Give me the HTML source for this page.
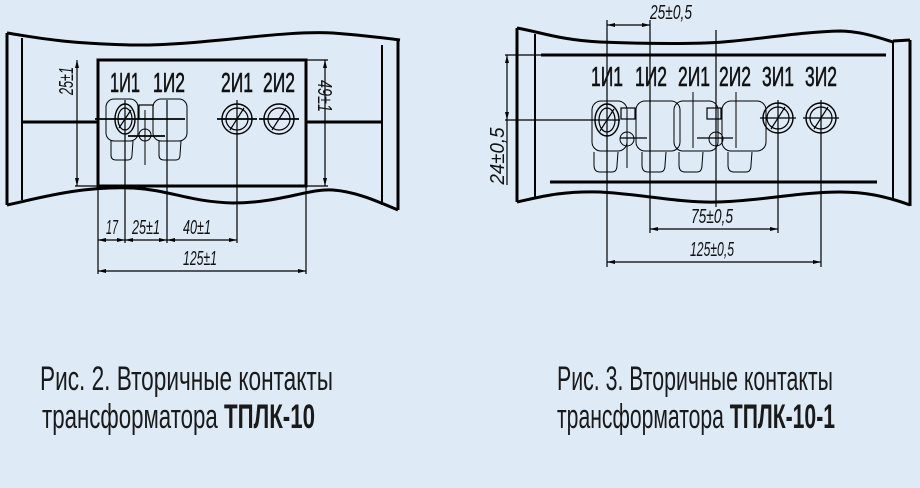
<!DOCTYPE html>
<html><head><meta charset="utf-8"><style>
html,body{margin:0;padding:0;background:#dfeaf7;}
svg{display:block}
.t{font-family:"Liberation Sans",sans-serif;fill:#111;}
.c{font-family:"Liberation Sans",sans-serif;fill:#1a1a1a;font-size:34px;}
</style></head><body>
<svg width="920" height="488" viewBox="0 0 920 488" xmlns="http://www.w3.org/2000/svg">
<rect width="920" height="488" fill="#dfeaf7"/>
<g fill="none" stroke="#000">
<path d="M7,33 C40,38 60,43 133,45 C200,46 280,30 333,33 C360,35 385,38 400,40" stroke-width="3"/>
<path d="M7,205 C40,198 80,186 133,188 C170,190 190,202 233,203 C280,203 310,188 333,190 C360,192 385,205 398,210" stroke-width="3"/>
<line x1="7" y1="33" x2="7" y2="205" stroke-width="3"/>
<line x1="22" y1="38" x2="22" y2="200" stroke-width="2"/>
<line x1="382" y1="45" x2="382" y2="205" stroke-width="2"/>
<line x1="398" y1="40" x2="398" y2="210" stroke-width="3"/>
<line x1="22" y1="122" x2="98" y2="122" stroke-width="3"/>
<line x1="306" y1="122" x2="382" y2="122" stroke-width="3"/>
<rect x="98" y="60" width="208" height="126" stroke-width="3"/>
<line x1="77" y1="60" x2="77" y2="186" stroke-width="1.2"/>
<line x1="75" y1="186" x2="98" y2="186" stroke-width="1.2"/>
<line x1="325" y1="60" x2="325" y2="186" stroke-width="1.2"/>
<line x1="306" y1="60" x2="328" y2="60" stroke-width="1.2"/>
<line x1="306" y1="186" x2="328" y2="186" stroke-width="1.2"/>
<rect x="106" y="99" width="32" height="42" rx="8" stroke-width="1"/>
<ellipse cx="125" cy="119" rx="10" ry="15" stroke-width="1.4"/>
<ellipse cx="125" cy="119" rx="7" ry="11" stroke-width="1.2"/>
<line x1="119" y1="128" x2="131" y2="110" stroke-width="1.2"/>
<rect x="139" y="105" width="14" height="14" stroke-width="1.2"/>
<circle cx="145" cy="135" r="6" stroke-width="1"/>
<rect x="153" y="99" width="34" height="42" rx="8" stroke-width="1"/>
<path d="M111,141 L111,155 Q111,160 116,160 L128,160 Q132,160 132,155 L133,141" stroke-width="1"/>
<path d="M159,141 L159,155 Q159,160 164,160 L176,160 Q180,160 180,155 L181,141" stroke-width="1"/>
<line x1="95" y1="119" x2="185" y2="119" stroke-width="1.8"/>
<line x1="128" y1="136" x2="165" y2="136" stroke-width="1.8"/>
<line x1="145" y1="110" x2="145" y2="165" stroke-width="1"/>
<circle cx="237" cy="119" r="15" stroke-width="1.4"/>
<circle cx="237" cy="119" r="11" stroke-width="1.2"/>
<line x1="230" y1="130" x2="244" y2="108" stroke-width="1.2"/>
<line x1="217" y1="119" x2="257" y2="119" stroke-width="1.8"/>
<circle cx="279" cy="119" r="15" stroke-width="1.4"/>
<circle cx="279" cy="119" r="11" stroke-width="1.2"/>
<line x1="272" y1="130" x2="286" y2="108" stroke-width="1.2"/>
<line x1="259" y1="119" x2="299" y2="119" stroke-width="1.8"/>
<line x1="98" y1="186" x2="98" y2="274" stroke-width="1.2"/>
<line x1="125" y1="100" x2="125" y2="243" stroke-width="1.2"/>
<line x1="167" y1="100" x2="167" y2="243" stroke-width="1.2"/>
<line x1="237" y1="100" x2="237" y2="243" stroke-width="1.2"/>
<line x1="306" y1="186" x2="306" y2="274" stroke-width="1.2"/>
<line x1="98" y1="240" x2="237" y2="240" stroke-width="1.2"/>
<line x1="98" y1="271" x2="306" y2="271" stroke-width="1.2"/>

<path d="M517,28 C540,32 560,40 600,42 C650,44 700,44 723,42 C770,38 800,32 840,31 C860,31 880,38 893,42" stroke-width="3"/>
<path d="M517,202 C540,197 560,191 600,192 C640,194 680,203 717,202 C760,201 800,192 840,192 C865,192 885,196 910,205" stroke-width="3"/>
<line x1="517" y1="28" x2="517" y2="202" stroke-width="3"/>
<line x1="535" y1="34" x2="535" y2="198" stroke-width="2"/>
<line x1="893" y1="42" x2="893" y2="198" stroke-width="2"/>
<line x1="910" y1="40" x2="910" y2="206" stroke-width="3"/>
<line x1="893" y1="41" x2="910" y2="40" stroke-width="3"/>
<line x1="541" y1="55" x2="886" y2="55" stroke-width="3"/>
<line x1="550" y1="182" x2="877" y2="182" stroke-width="3"/>
<line x1="505" y1="55" x2="541" y2="55" stroke-width="1.2"/>
<line x1="505" y1="120" x2="620" y2="120" stroke-width="1.2"/>
<line x1="507" y1="55" x2="507" y2="185" stroke-width="1.2"/>
<rect x="592" y="101" width="35" height="50" rx="9" stroke-width="1"/>
<ellipse cx="607" cy="120" rx="12" ry="16" stroke-width="1.4"/>
<ellipse cx="607" cy="120" rx="8" ry="12" stroke-width="1.2"/>
<line x1="600" y1="131" x2="614" y2="109" stroke-width="1.2"/>
<rect x="621" y="108" width="14" height="11" stroke-width="1.2"/>
<circle cx="627" cy="139" r="7" stroke-width="1"/>
<rect x="636" y="101" width="44" height="50" rx="9" stroke-width="1"/>
<rect x="674" y="101" width="44" height="50" rx="9" stroke-width="1"/>
<rect x="707" y="108" width="14" height="11" stroke-width="1.2"/>
<circle cx="716" cy="139" r="7" stroke-width="1"/>
<rect x="722" y="101" width="44" height="50" rx="9" stroke-width="1"/>
<path d="M594,152 L594,165 Q594,172 600,172 L612,172 Q617,172 617,165 L618,152" stroke-width="1"/>
<path d="M642,152 L642,165 Q642,172 648,172 L660,172 Q665,172 665,165 L666,152" stroke-width="1"/>
<path d="M679,152 L679,165 Q679,172 685,172 L697,172 Q702,172 702,165 L703,152" stroke-width="1"/>
<path d="M728,152 L728,165 Q728,172 734,172 L746,172 Q751,172 751,165 L752,152" stroke-width="1"/>
<line x1="620" y1="138" x2="647" y2="138" stroke-width="1.2"/>
<line x1="697" y1="138" x2="733" y2="138" stroke-width="1.2"/>
<circle cx="778" cy="118" r="15" stroke-width="1.4"/>
<circle cx="778" cy="118" r="11" stroke-width="1.2"/>
<line x1="771" y1="129" x2="785" y2="107" stroke-width="1.2"/>
<line x1="760" y1="118" x2="796" y2="118" stroke-width="1.2"/>
<circle cx="821" cy="118" r="15" stroke-width="1.4"/>
<circle cx="821" cy="118" r="11" stroke-width="1.2"/>
<line x1="814" y1="129" x2="828" y2="107" stroke-width="1.2"/>
<line x1="803" y1="118" x2="839" y2="118" stroke-width="1.2"/>
<line x1="607" y1="20" x2="607" y2="267" stroke-width="1.2"/>
<line x1="650" y1="20" x2="650" y2="233" stroke-width="1.2"/>
<line x1="627" y1="125" x2="627" y2="168" stroke-width="1"/>
<line x1="693" y1="92" x2="693" y2="148" stroke-width="1"/>
<line x1="736" y1="92" x2="736" y2="148" stroke-width="1"/>
<line x1="716" y1="30" x2="716" y2="207" stroke-width="1.2"/>
<line x1="778" y1="100" x2="778" y2="233" stroke-width="1.2"/>
<line x1="821" y1="100" x2="821" y2="267" stroke-width="1.2"/>
<line x1="607" y1="25" x2="650" y2="25" stroke-width="1.2"/>
<line x1="650" y1="229" x2="778" y2="229" stroke-width="1.2"/>
<line x1="607" y1="262" x2="821" y2="262" stroke-width="1.2"/>
</g>
<g fill="#000">
<polygon points="98,240 106,238 106,242"/><polygon points="125,240 117,238 117,242"/>
<polygon points="125,240 133,238 133,242"/><polygon points="167,240 159,238 159,242"/>
<polygon points="167,240 175,238 175,242"/><polygon points="237,240 229,238 229,242"/>
<polygon points="98,271 106,269 106,273"/><polygon points="306,271 298,269 298,273"/>
<polygon points="77,60 75,68 79,68"/><polygon points="77,186 75,178 79,178"/>
<polygon points="325,60 323,68 327,68"/><polygon points="325,186 323,178 327,178"/>
<polygon points="607,25 615,23 615,27"/><polygon points="650,25 642,23 642,27"/>
<polygon points="650,229 658,227 658,231"/><polygon points="778,229 770,227 770,231"/>
<polygon points="607,262 615,260 615,264"/><polygon points="821,262 813,260 813,264"/>
<polygon points="507,55 505,63 509,63"/><polygon points="507,120 505,112 509,112"/>
</g>
<g class="t" font-size="28" text-anchor="middle" stroke="#111" stroke-width="0.6">
<text x="125" y="92" textLength="30" lengthAdjust="spacingAndGlyphs">1И1</text>
<text x="169" y="92" textLength="32" lengthAdjust="spacingAndGlyphs">1И2</text>
<text x="237" y="92" textLength="32" lengthAdjust="spacingAndGlyphs">2И1</text>
<text x="279" y="92" textLength="32" lengthAdjust="spacingAndGlyphs">2И2</text>
<text x="607" y="86" textLength="32" lengthAdjust="spacingAndGlyphs">1И1</text>
<text x="651" y="86" textLength="32" lengthAdjust="spacingAndGlyphs">1И2</text>
<text x="694" y="86" textLength="32" lengthAdjust="spacingAndGlyphs">2И1</text>
<text x="735" y="86" textLength="32" lengthAdjust="spacingAndGlyphs">2И2</text>
<text x="778" y="86" textLength="32" lengthAdjust="spacingAndGlyphs">3И1</text>
<text x="821" y="86" textLength="32" lengthAdjust="spacingAndGlyphs">3И2</text>
</g>
<g class="t" font-size="20" font-style="italic" text-anchor="middle">
<text x="112" y="234" textLength="12" lengthAdjust="spacingAndGlyphs">17</text>
<text x="146" y="234" textLength="28" lengthAdjust="spacingAndGlyphs">25±1</text>
<text x="197" y="234" textLength="28" lengthAdjust="spacingAndGlyphs">40±1</text>
<text x="200" y="265" textLength="34" lengthAdjust="spacingAndGlyphs">125±1</text>
<text x="671" y="19" textLength="42" lengthAdjust="spacingAndGlyphs">25±0,5</text>
<text x="712" y="223" textLength="42" lengthAdjust="spacingAndGlyphs">75±0,5</text>
<text x="712" y="256" textLength="44" lengthAdjust="spacingAndGlyphs">125±0,5</text>
<text transform="translate(73,81) rotate(-90)" textLength="28" lengthAdjust="spacingAndGlyphs">25±1</text>
<text transform="translate(318,96) rotate(90)" textLength="32" lengthAdjust="spacingAndGlyphs">49±1</text>
<text transform="translate(504,156) rotate(-90)" textLength="57" lengthAdjust="spacingAndGlyphs">24±0,5</text>
</g>
<text class="c" x="40" y="390" textLength="293" lengthAdjust="spacingAndGlyphs">Рис. 2. Вторичные контакты</text>
<text class="c" x="42" y="428" textLength="273" lengthAdjust="spacingAndGlyphs">трансформатора <tspan font-weight="bold">ТПЛК-10</tspan></text>
<text class="c" x="557" y="390" textLength="276" lengthAdjust="spacingAndGlyphs">Рис. 3. Вторичные контакты</text>
<text class="c" x="557" y="428" textLength="278" lengthAdjust="spacingAndGlyphs">трансформатора <tspan font-weight="bold">ТПЛК-10-1</tspan></text>
</svg>
</body></html>
